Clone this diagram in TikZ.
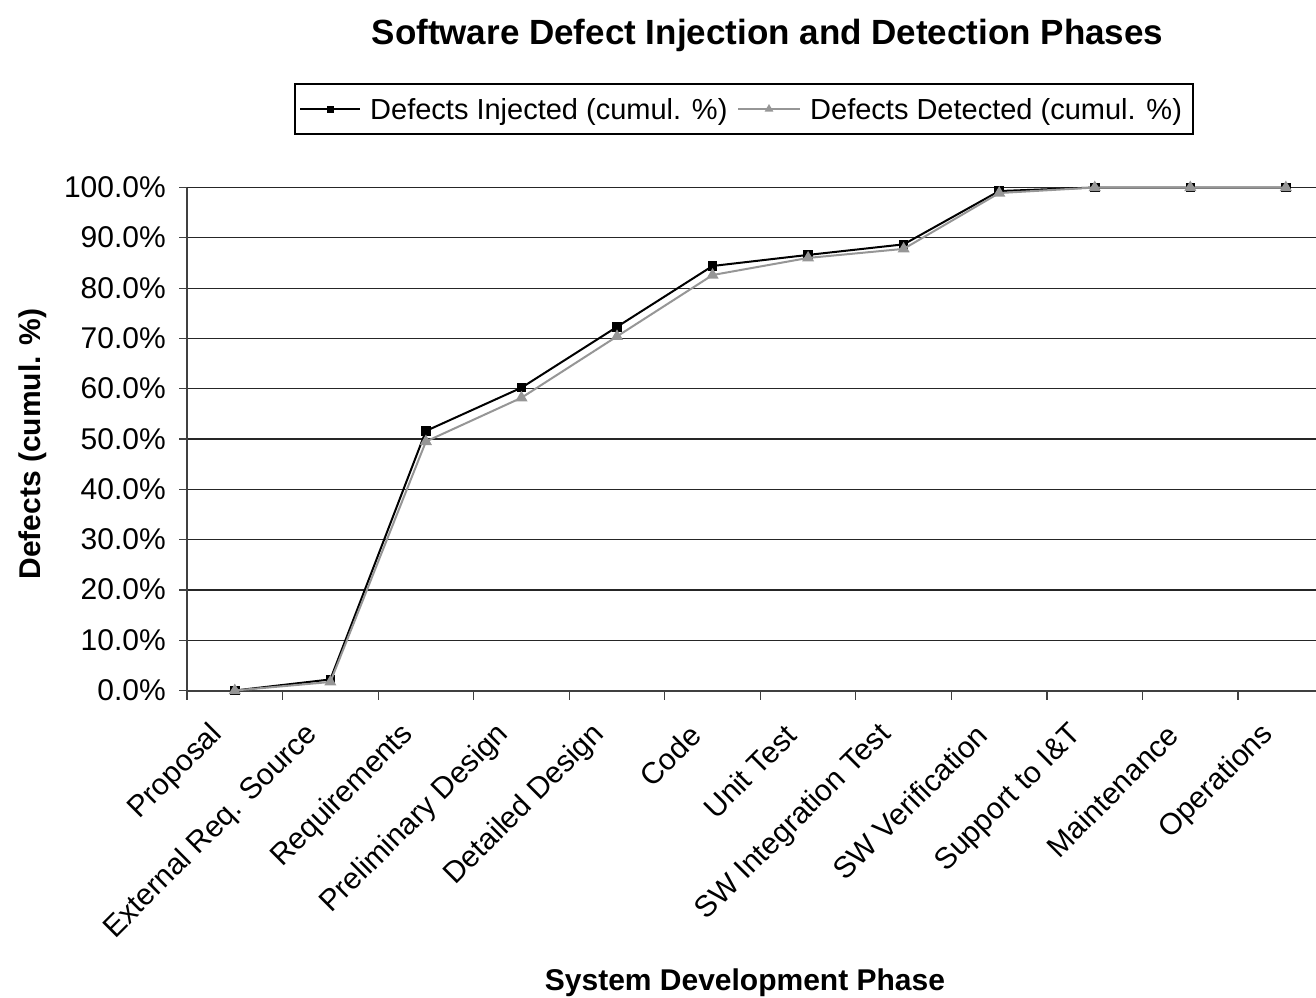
\documentclass[tikz,border=0pt]{standalone}
\usepackage{fontspec}
\setmainfont{Liberation Sans}
\usetikzlibrary{shapes.geometric}
\definecolor{detgray}{RGB}{150,150,150}
\definecolor{axisgray}{RGB}{64,64,64}
\begin{document}
\begin{tikzpicture}[x=1pt,y=-1pt,
  gridline/.style={black!85, line width=1.2pt},
  axisline/.style={axisgray, line width=2pt},
  tickline/.style={axisgray, line width=1.2pt},
  ylab/.style={anchor=base east, inner sep=0pt, font=\fontsize{30}{36}\selectfont},
  xlab/.style={anchor=east, rotate=45, inner sep=0pt, font=\fontsize{30}{36}\selectfont},
  legtext/.style={anchor=base west, inner sep=0pt, font=\fontsize{29}{34}\selectfont},
  injline/.style={black, line width=2pt, line join=round},
  detline/.style={detgray, line width=2pt, line join=round},
  sqmark/.style={rectangle, fill=black, minimum size=9.5pt, inner sep=0pt},
  sqsmall/.style={rectangle, fill=black, minimum size=7pt, inner sep=0pt},
  trimark/.style={regular polygon, regular polygon sides=3, fill=detgray, minimum size=14pt, inner sep=0pt},
  trismall/.style={regular polygon, regular polygon sides=3, fill=detgray, minimum size=10pt, inner sep=0pt},
  legbox/.style={draw=black, line width=1.5pt}
]
\useasboundingbox (0,0) rectangle (1316,997);
\begin{scope}
\clip (0,0) rectangle (1316,997);

% title
\node[inner sep=0pt, anchor=base, font=\fontsize{35}{40}\selectfont\bfseries] (title) at (767.5,44) {Software Defect Injection and Detection Phases};

% legend
\draw[legbox] (295,84) rectangle (1193,134);
\coordinate (la) at (300,109);
\coordinate (lb) at (360,109);
\draw[injline] (la) -- (lb);
\node[sqsmall] (lsq) at (330,109) {};
\node[legtext] (lt1) at (370,119.5) {Defects Injected (cumul. \%)};
\coordinate (lc) at (738,109);
\coordinate (ld) at (800,109);
\draw[detline] (lc) -- (ld);
\node[trismall] (ltri) at (769,109) {};
\node[legtext] (lt2) at (810,119.5) {Defects Detected (cumul. \%)};

% gridlines and y labels
\foreach \v [count=\i from 0] in {0.0,10.0,20.0,30.0,40.0,50.0,60.0,70.0,80.0,90.0,100.0} {
  \pgfmathsetmacro{\yy}{690.5-50.3*\i}
  \ifnum\i>0
    \draw[gridline] (187,\yy) -- (1316,\yy);
  \fi
  \draw[tickline] (179,\yy) -- (187,\yy);
  \node[ylab] (yl\i) at (166,\yy+10) {\v\%};
}

% axes
\draw[axisline] (187,187.5) -- (187,690.5);
\draw[axisline] (187,690.5) -- (1316,690.5);
\foreach \k in {0,...,11} {
  \draw[tickline] (187+95.55*\k,690.5) -- (187+95.55*\k,700);
}

% x labels
\foreach \lab [count=\k from 0] in {Proposal,External Req. Source,Requirements,Preliminary Design,Detailed Design,Code,Unit Test,SW Integration Test,SW Verification,Support to I\&T,Maintenance,Operations} {
  \node[xlab] (xl\k) at (187+95.55*\k+47.8-17,730) {\lab};
}

% axis titles
\node[inner sep=0pt, anchor=base, rotate=90, font=\fontsize{30}{36}\selectfont\bfseries] (ytitle) at (40,444) {Defects (cumul. \%)};
\node[inner sep=0pt, anchor=base, font=\fontsize{30}{36}\selectfont\bfseries] (xtitle) at (745,990) {System Development Phase};

% data coordinates
\foreach \v [count=\k from 0] in {0,2.2,51.6,60.2,72.3,84.4,86.6,88.7,99.3,100,100,100} {
  \coordinate (i\k) at (187+95.55*\k+47.8, 690.5-5.03*\v);
}
\foreach \v [count=\k from 0] in {0,1.7,49.5,58.2,70.4,82.6,86.0,87.8,98.9,100,100,100} {
  \coordinate (d\k) at (187+95.55*\k+47.8, 690.5-5.03*\v);
}

% injected series
\draw[injline] (i0) -- (i1) -- (i2) -- (i3) -- (i4) -- (i5) -- (i6) -- (i7) -- (i8) -- (i9) -- (i10) -- (i11);
\foreach \k in {0,...,11} { \node[sqmark] (mi\k) at (i\k) {}; }

% detected series
\draw[detline] (d0) -- (d1) -- (d2) -- (d3) -- (d4) -- (d5) -- (d6) -- (d7) -- (d8) -- (d9) -- (d10) -- (d11);
\foreach \k in {0,...,11} { \node[trimark] (md\k) at (d\k) {}; }

\end{scope}
\end{tikzpicture}
\end{document}
